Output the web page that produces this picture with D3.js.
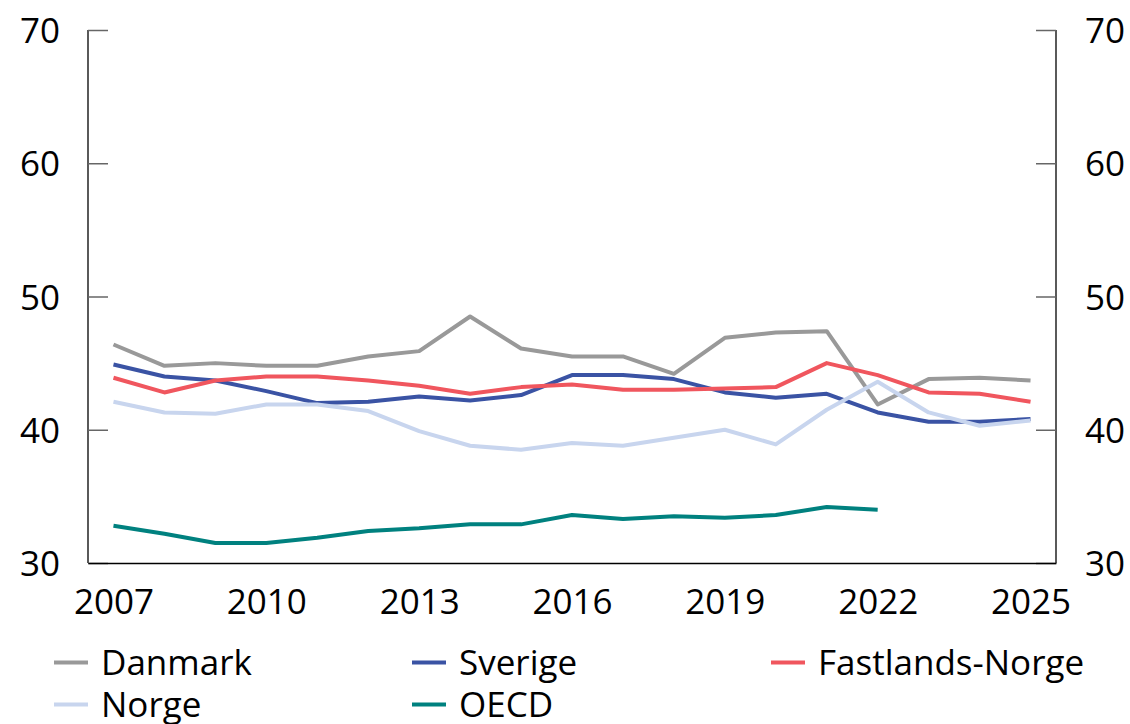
<!DOCTYPE html>
<html><head><meta charset="utf-8">
<script src="https://cdn.jsdelivr.net/npm/d3@7"></script>
<style>body{margin:0;background:#fff}svg text{font-family:"Open Sans",sans-serif;fill:#000}</style>
</head><body><svg id="c" width="1130" height="724"></svg>
<script>
const years = d3.range(2007, 2026);
const xTicks = [2007, 2010, 2013, 2016, 2019, 2022, 2025];
const yTicks = [30, 40, 50, 60, 70];
const danmark = [46.4,44.8,45.0,44.8,44.8,45.5,45.9,48.5,46.1,45.5,45.5,44.2,46.9,47.3,47.4,41.9,43.8,43.9,43.7];
const sverige = [44.9,44.0,43.7,42.9,42.0,42.1,42.5,42.2,42.6,44.1,44.1,43.8,42.8,42.4,42.7,41.3,40.6,40.6,40.8];
const fastland = [43.9,42.8,43.7,44.0,44.0,43.7,43.3,42.7,43.2,43.4,43.0,43.0,43.1,43.2,45.0,44.1,42.8,42.7,42.1];
const norge = [42.1,41.3,41.2,41.9,41.9,41.4,39.9,38.8,38.5,39.0,38.8,39.4,40.0,38.9,41.5,43.6,41.3,40.3,40.7];
const oecd = [32.8,32.2,31.5,31.5,31.9,32.4,32.6,32.9,32.9,33.6,33.3,33.5,33.4,33.6,34.2,34.0];
const seriesNames = ["Danmark","Sverige","Fastlands-Norge","Norge","OECD"];
const colors = ["#999999","#3a53a4","#f0565e","#c8d5ee","#00817f"];
const data = [danmark, sverige, fastland, norge, oecd];

const FS = 35;
const svg = d3.select("#c");
const L = 88, R = 1056, T = 30, B = 563;
const x = d3.scalePoint().domain(years).range([L, R]).padding(0.5);
const y = d3.scaleLinear().domain([30, 70]).range([B, T]);

const yl = svg.append("g").attr("transform", `translate(${L},0)`)
  .call(d3.axisLeft(y).tickValues(yTicks).tickSize(-20).tickFormat(d3.format("d")));
const yr = svg.append("g").attr("transform", `translate(${R},0)`)
  .call(d3.axisRight(y).tickValues(yTicks).tickSize(-20).tickFormat(d3.format("d")));
[yl, yr].forEach(g => {
  g.select(".domain").attr("stroke", "#000").attr("stroke-width", 1.3).attr("d", `M0,${T}V${B}`);
  g.selectAll(".tick line").attr("stroke", "#666").attr("stroke-width", 1.5);
  g.selectAll(".tick text").attr("font-size", FS).attr("font-family", "Open Sans, sans-serif")
    .attr("fill", "#000").attr("dy", "0.36em");
});
yl.selectAll(".tick text").attr("x", -28);
yr.selectAll(".tick text").attr("x", 29);

const xa = svg.append("g").attr("transform", `translate(0,${B})`)
  .call(d3.axisBottom(x).tickValues(xTicks).tickSize(0).tickFormat(d3.format("d")));
xa.select(".domain").attr("stroke", "#000").attr("stroke-width", 1.5);
xa.selectAll(".tick text").attr("font-size", FS).attr("font-family", "Open Sans, sans-serif")
  .attr("fill", "#000").attr("y", 51).attr("dy", 0);

const line = d3.line().x((d, i) => x(years[i])).y(d => y(d));
data.forEach((s, k) => {
  svg.append("path").datum(s).attr("d", line).attr("fill", "none")
    .attr("stroke", colors[k]).attr("stroke-width", 4).attr("stroke-linejoin", "round");
});

const legPos = [[54,662.5],[412,662.5],[771,662.5],[54,704.5],[412,704.5]];
seriesNames.forEach((n, k) => {
  const g = svg.append("g").attr("transform", `translate(${legPos[k][0]},${legPos[k][1]})`);
  g.append("line").attr("x1", 0).attr("x2", 34).attr("y1", 0).attr("y2", 0)
    .attr("stroke", colors[k]).attr("stroke-width", 4);
  g.append("text").attr("x", 47).attr("y", 12.5).attr("font-size", FS).text(n);
});
</script></body></html>
